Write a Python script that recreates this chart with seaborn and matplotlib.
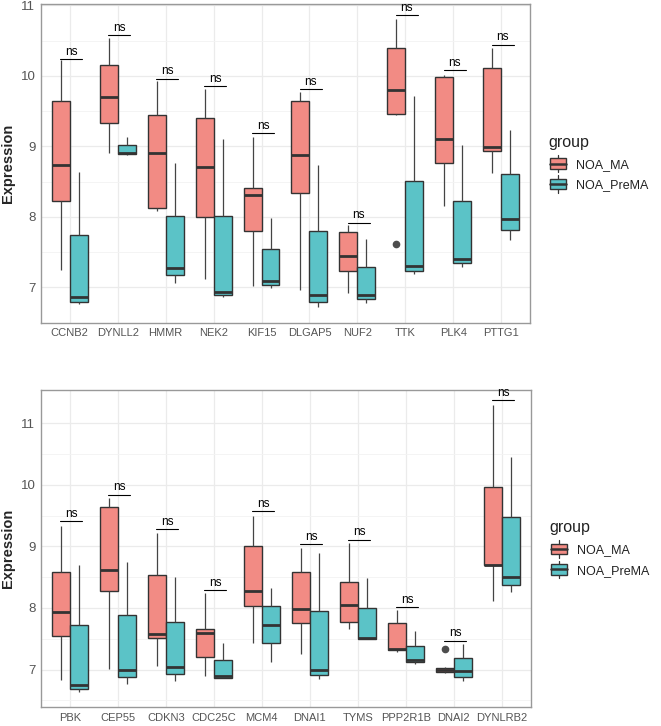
import pandas as pd
import matplotlib.pyplot as plt
import seaborn as sns
from matplotlib.legend_handler import HandlerBase
from matplotlib.patches import Rectangle, Patch
from matplotlib.lines import Line2D

sns.set_style('white')
plt.rcParams['font.family'] = ['Liberation Sans', 'DejaVu Sans']

groups = ['NOA_MA', 'NOA_PreMA']
colors = {'NOA_MA': '#F28B84', 'NOA_PreMA': '#5BC3C7'}

# box summaries: (low whisker, Q1, median, Q3, high whisker)
top_genes = ['CCNB2', 'DYNLL2', 'HMMR', 'NEK2', 'KIF15', 'DLGAP5', 'NUF2', 'TTK', 'PLK4', 'PTTG1']
top_ma = [(7.25, 8.23, 8.74, 9.65, 10.22), (8.90, 9.33, 9.70, 10.15, 10.54), (8.09, 8.13, 8.90, 9.44, 9.93),
          (7.12, 8.00, 8.71, 9.40, 9.82), (7.02, 7.80, 8.31, 8.41, 9.14), (6.96, 8.34, 8.88, 9.65, 9.77),
          (6.92, 7.23, 7.45, 7.79, 7.88), (9.45, 9.46, 9.80, 10.40, 10.81), (8.15, 8.76, 9.11, 9.98, 10.01),
          (8.63, 8.94, 8.99, 10.11, 10.39)]
top_pre = [(6.77, 6.80, 6.86, 7.75, 8.64), (8.88, 8.89, 8.90, 9.02, 9.14), (7.06, 7.17, 7.28, 8.02, 8.77),
           (6.86, 6.90, 6.93, 8.02, 9.10), (6.99, 7.04, 7.09, 7.55, 7.99), (6.72, 6.80, 6.90, 7.80, 8.73),
           (6.78, 6.83, 6.89, 7.29, 7.69), (7.19, 7.24, 7.31, 8.51, 9.71), (7.29, 7.34, 7.41, 8.23, 9.02),
           (7.67, 7.82, 7.97, 8.61, 9.23)]
top_outliers = {('TTK', 'NOA_MA'): 7.61}
top_ns = [10.24, 10.58, 9.96, 9.85, 9.19, 9.81, 7.92, 10.86, 10.08, 10.44]

bottom_genes = ['PBK', 'CEP55', 'CDKN3', 'CDC25C', 'MCM4', 'DNAI1', 'TYMS', 'PPP2R1B', 'DNAI2', 'DYNLRB2']
bottom_ma = [(6.83, 7.54, 7.94, 8.58, 9.33), (7.01, 8.27, 8.62, 9.64, 9.78), (7.06, 7.51, 7.58, 8.53, 9.22),
             (6.89, 7.20, 7.60, 7.66, 8.24), (7.43, 8.04, 8.27, 9.00, 9.50), (7.25, 7.76, 7.99, 8.59, 8.98),
             (7.66, 7.78, 8.05, 8.42, 9.06), (7.28, 7.31, 7.33, 7.76, 7.97), (6.95, 6.96, 7.00, 7.03, 7.04),
             (8.11, 8.69, 8.70, 9.97, 11.30)]
bottom_pre = [(6.63, 6.69, 6.75, 7.72, 8.70), (6.77, 6.88, 7.00, 7.88, 8.74), (6.82, 6.93, 7.04, 7.78, 8.50),
              (6.86, 6.86, 6.89, 7.16, 7.43), (7.12, 7.43, 7.73, 8.03, 8.32), (6.85, 6.91, 6.99, 7.95, 8.89),
              (7.50, 7.50, 7.51, 8.00, 8.49), (7.09, 7.12, 7.16, 7.39, 7.62), (6.81, 6.88, 6.97, 7.19, 7.41),
              (8.26, 8.38, 8.51, 9.48, 10.46)]
bottom_outliers = {('DNAI2', 'NOA_MA'): 7.33}
bottom_ns = [9.41, 9.84, 9.28, 8.29, 9.57, 9.04, 9.11, 8.01, 7.47, 11.37]


def make_long(genes, ma, pre, outliers):
    rows = []
    for gene, s_ma, s_pre in zip(genes, ma, pre):
        for grp, (lo, q1, med, q3, hi) in zip(groups, [s_ma, s_pre]):
            # nine values so that the 25/50/75 percentiles land on q1/med/q3
            vals = [lo, lo, q1, q1, med, q3, q3, hi, hi]
            out = outliers.get((gene, grp))
            if out is not None:
                if out < lo:
                    vals[0] = out
                else:
                    vals[-1] = out
            rows += [{'gene': gene, 'group': grp, 'Expression': v} for v in vals]
    return pd.DataFrame(rows)


class BoxKey(HandlerBase):
    def create_artists(self, legend, orig_handle, xdescent, ydescent, width, height, fontsize, trans):
        fc = orig_handle.get_facecolor()
        cx = -xdescent + width / 2
        y0 = -ydescent
        bw = width * 0.85
        bh = height * 1.0
        whisk = Line2D([cx, cx], [y0 - 0.35 * height, y0 + height * 1.35], color='#333333', lw=0.9, transform=trans)
        box = Rectangle((cx - bw / 2, y0), bw, bh, facecolor=fc, edgecolor='#333333', lw=1.0, transform=trans)
        med = Line2D([cx - bw / 2, cx + bw / 2], [y0 + bh / 2] * 2, color='#333333', lw=1.8, transform=trans)
        return [whisk, box, med]


def draw_panel(ax, genes, ma, pre, outliers, ns, ylim):
    df = make_long(genes, ma, pre, outliers)
    ax.set_axisbelow(True)
    sns.boxplot(data=df, x='gene', y='Expression', hue='group', order=genes, hue_order=groups,
                palette=colors, width=0.75, gap=0, saturation=1, linewidth=1.0, linecolor='#333333',
                showcaps=False, whis=1.5, legend=False, ax=ax,
                whiskerprops={'color': '#444444', 'linewidth': 0.9},
                medianprops={'color': '#333333', 'linewidth': 2.0},
                flierprops={'marker': 'o', 'markersize': 4.5, 'markerfacecolor': '#4D4D4D',
                            'markeredgecolor': '#4D4D4D'})
    for i, h in enumerate(ns):
        ax.plot([i - 0.2, i + 0.26], [h, h], color='black', lw=0.8)
        ax.text(i + 0.03, h + 0.02, 'ns', ha='center', va='bottom', fontsize=8.5, color='black')

    ax.set_xlim(-0.6, len(genes) - 0.4)
    ax.set_ylim(*ylim)
    ax.set_yticks([7, 8, 9, 10, 11])
    ax.set_yticks([6.5, 7.5, 8.5, 9.5, 10.5], minor=True)
    ax.grid(True, which='major', color='#EBEBEB', lw=0.9)
    ax.grid(True, which='minor', axis='y', color='#F3F3F3', lw=0.6)
    ax.tick_params(axis='y', which='minor', length=0)
    ax.tick_params(axis='both', which='major', length=2.5, width=0.8, color='#555555',
                   labelcolor='#555555', pad=1.5)
    ax.tick_params(axis='y', labelsize=9.5)
    ax.tick_params(axis='x', labelsize=8)
    ax.set_xlabel('')
    ax.set_ylabel('Expression', fontsize=10.5, fontweight='bold', labelpad=4)
    for sp in ax.spines.values():
        sp.set_color('#999999')
        sp.set_linewidth(1.0)

    handles = [Patch(facecolor=colors[g]) for g in groups]
    leg = ax.legend(handles, groups, title='group', loc='center left', bbox_to_anchor=(1.02, 0.5),
                    frameon=False, fontsize=9, title_fontsize=11.5, handler_map={Patch: BoxKey()},
                    handlelength=1.5, handleheight=0.9, handletextpad=0.7, labelspacing=0.65,
                    borderpad=0.2)
    leg._legend_box.align = 'left'
    for t in leg.get_texts():
        t.set_color('#222222')
    leg.get_title().set_color('#222222')


fig = plt.figure(figsize=(6.61, 7.26), dpi=100)
ax1 = fig.add_axes([0.062, 0.5555, 0.7398, 0.439])
ax2 = fig.add_axes([0.062, 0.026, 0.7408, 0.4368])

draw_panel(ax1, top_genes, top_ma, top_pre, top_outliers, top_ns, (6.53, 11.02))
draw_panel(ax2, bottom_genes, bottom_ma, bottom_pre, bottom_outliers, bottom_ns, (6.39, 11.54))

fig.savefig('out.png', dpi=100)
